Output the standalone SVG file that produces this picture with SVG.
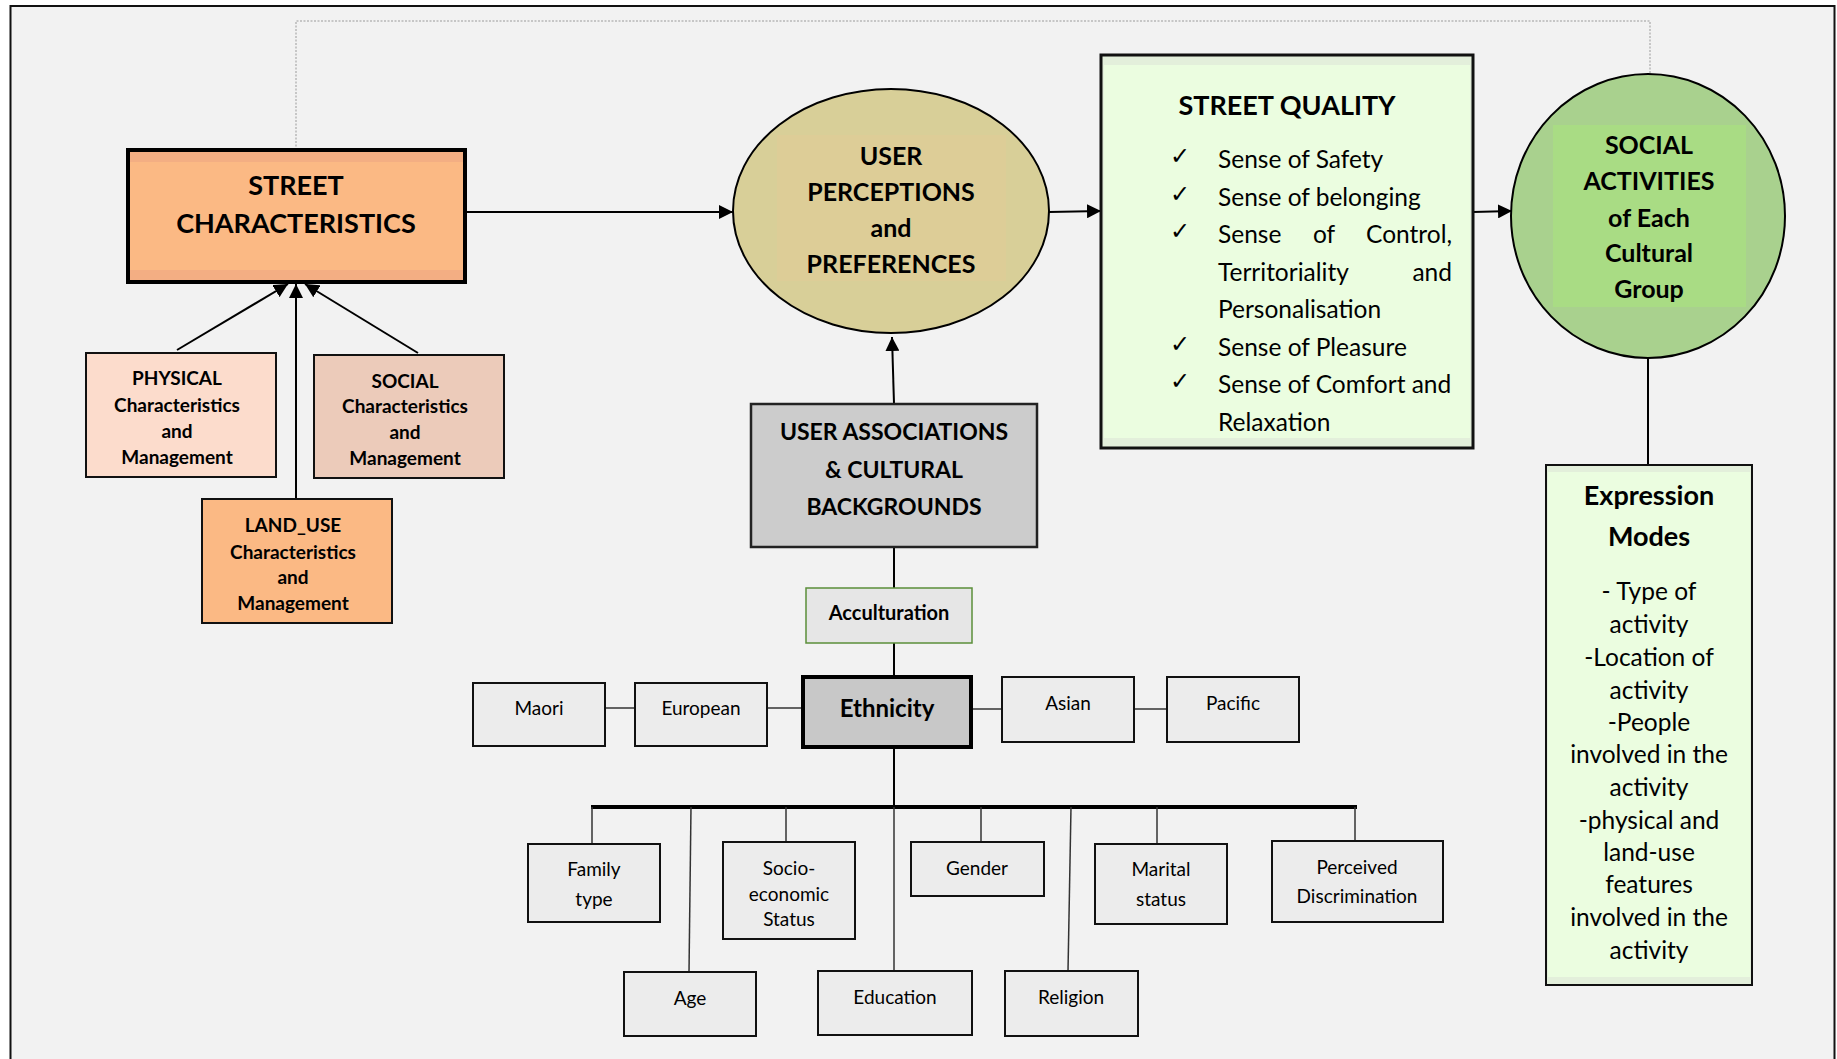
<svg xmlns="http://www.w3.org/2000/svg" width="1837" height="1059" viewBox="0 0 1837 1059">
  <defs>
    <marker id="arrowBig" viewBox="0 0 10 10" refX="10" refY="5" markerWidth="14" markerHeight="14" markerUnits="userSpaceOnUse" orient="auto">
      <path d="M0,0 L10,5 L0,10 z" fill="#000"/>
    </marker>
  </defs>
  <style>
    text { font-family: Lato, "Liberation Sans", sans-serif; fill: #000; text-anchor: middle; dominant-baseline: central; }
    .h1 { font-size: 27px; font-weight: bold; }
    .h2 { font-size: 25px; font-weight: bold; }
    .sm { font-size: 19px; font-weight: bold; }
    .item { font-size: 19px; }
    .list { font-size: 24.5px; text-anchor: start; }
    .chk { font-family: "DejaVu Sans", sans-serif; font-size: 24px; text-anchor: start; }
    .body { font-size: 24.5px; }
    .box { stroke: #111; stroke-width: 2; }
    .grey { fill: #ececec; stroke: #111; stroke-width: 2; }
    .link { stroke: #000; stroke-width: 2; fill: none; }
    .thin { stroke: #333; stroke-width: 1.5; fill: none; }
  </style>

  <!-- page frame -->
  <rect x="10.5" y="6" width="1824" height="1070" fill="#f2f2f2" stroke="#111" stroke-width="2"/>

  <g id="connectors">
    <!-- dotted feedback loop over the top -->
    <path d="M296,150 V21 H1650 V73" fill="none" stroke="#9a9a9a" stroke-width="1" stroke-dasharray="2,1.5"/>
    <!-- main flow -->
    <line class="link" x1="465" y1="212" x2="733" y2="212" marker-end="url(#arrowBig)"/>
    <line class="link" x1="1049" y1="212" x2="1101" y2="211" marker-end="url(#arrowBig)"/>
    <line class="link" x1="1473" y1="212" x2="1512" y2="211" marker-end="url(#arrowBig)"/>
    <line class="link" x1="1648" y1="358" x2="1648" y2="465"/>
    <!-- sub-characteristics into street characteristics -->
    <line class="link" x1="177" y1="350" x2="288" y2="284" marker-end="url(#arrowBig)"/>
    <line class="link" x1="418" y1="353" x2="305" y2="284" marker-end="url(#arrowBig)"/>
    <line class="link" x1="296" y1="499" x2="296" y2="284" marker-end="url(#arrowBig)"/>
    <!-- cultural backgrounds into perceptions -->
    <line class="link" x1="894" y1="404" x2="892" y2="337" marker-end="url(#arrowBig)"/>
    <line class="link" x1="894" y1="547" x2="894" y2="588"/>
    <line class="link" x1="894" y1="643" x2="894" y2="677"/>
    <!-- ethnicity row -->
    <line class="thin" x1="605" y1="708" x2="635" y2="708"/>
    <line class="thin" x1="767" y1="708" x2="803" y2="708"/>
    <line class="thin" x1="971" y1="709" x2="1002" y2="709"/>
    <line class="thin" x1="1134" y1="709" x2="1167" y2="709"/>
    <!-- factor tree -->
    <line class="link" x1="894" y1="747" x2="894" y2="807"/>
    <line x1="591" y1="807" x2="1357" y2="807" stroke="#000" stroke-width="4"/>
    <line class="thin" x1="592" y1="807" x2="592" y2="844"/>
    <line class="thin" x1="691" y1="807" x2="689" y2="972"/>
    <line class="thin" x1="786" y1="807" x2="786" y2="842"/>
    <line class="thin" x1="894" y1="807" x2="894" y2="971"/>
    <line class="thin" x1="981" y1="807" x2="981" y2="842"/>
    <line class="thin" x1="1071" y1="807" x2="1068" y2="971"/>
    <line class="thin" x1="1157" y1="807" x2="1157" y2="844"/>
    <line class="thin" x1="1355" y1="807" x2="1355" y2="841"/>
  </g>

  <g id="street-characteristics">
    <rect x="128" y="150" width="337" height="132" fill="#fbb984"/>
    <rect x="128" y="150" width="337" height="12" fill="#f3ae83"/>
    <rect x="128" y="270" width="337" height="12" fill="#f3ae83"/>
    <rect x="128" y="150" width="337" height="132" fill="none" stroke="#000" stroke-width="4"/>
    <text class="h1" x="296" y="184">STREET</text>
    <text class="h1" x="296" y="222">CHARACTERISTICS</text>
  </g>

  <g id="physical">
    <rect class="box" x="86" y="353" width="190" height="124" fill="#fcdccc"/>
    <text class="sm" x="177" y="377">PHYSICAL</text>
    <text class="sm" x="177" y="404">Characteristics</text>
    <text class="sm" x="177" y="430">and</text>
    <text class="sm" x="177" y="456">Management</text>
  </g>

  <g id="social">
    <rect class="box" x="314" y="355" width="190" height="123" fill="#eccbba"/>
    <text class="sm" x="405" y="380">SOCIAL</text>
    <text class="sm" x="405" y="405">Characteristics</text>
    <text class="sm" x="405" y="431">and</text>
    <text class="sm" x="405" y="457">Management</text>
  </g>

  <g id="land-use">
    <rect class="box" x="202" y="499" width="190" height="124" fill="#fbb984"/>
    <text class="sm" x="293" y="524">LAND_USE</text>
    <text class="sm" x="293" y="551">Characteristics</text>
    <text class="sm" x="293" y="576">and</text>
    <text class="sm" x="293" y="602">Management</text>
  </g>

  <g id="user-perceptions">
    <ellipse cx="891" cy="211" rx="158" ry="122" fill="#d8cf98" stroke="#000" stroke-width="2"/>
    <rect x="777" y="135" width="229" height="146" fill="#ddcd97"/>
    <text class="h2" x="891" y="155">USER</text>
    <text class="h2" x="891" y="191">PERCEPTIONS</text>
    <text class="h2" x="891" y="227">and</text>
    <text class="h2" x="891" y="263">PREFERENCES</text>
  </g>

  <g id="street-quality">
    <rect x="1101" y="55" width="372" height="393" fill="#e3efdb" stroke="#111" stroke-width="3"/>
    <rect x="1104" y="65" width="366" height="373" fill="#ebfde0"/>
    <text class="h2" x="1287" y="104" style="font-size:27px">STREET QUALITY</text>
    <text class="chk" x="1170" y="156">✓</text>
    <text class="list" x="1218" y="158">Sense of Safety</text>
    <text class="chk" x="1170" y="194">✓</text>
    <text class="list" x="1218" y="196">Sense of belonging</text>
    <text class="chk" x="1170" y="231">✓</text>
    <text class="list" x="1218" y="233">Sense</text>
    <text class="list" x="1313" y="233">of</text>
    <text class="list" x="1452" y="233" style="text-anchor:end">Control,</text>
    <text class="list" x="1218" y="271">Territoriality</text>
    <text class="list" x="1452" y="271" style="text-anchor:end">and</text>
    <text class="list" x="1218" y="308">Personalisation</text>
    <text class="chk" x="1170" y="344">✓</text>
    <text class="list" x="1218" y="346">Sense of Pleasure</text>
    <text class="chk" x="1170" y="381">✓</text>
    <text class="list" x="1218" y="383">Sense of Comfort and</text>
    <text class="list" x="1218" y="421">Relaxation</text>
  </g>

  <g id="social-activities">
    <ellipse cx="1648" cy="216" rx="137" ry="142" fill="#a9d18e" stroke="#000" stroke-width="2"/>
    <rect x="1553" y="125" width="193" height="182" fill="#a9dc84"/>
    <text class="h2" x="1649" y="144">SOCIAL</text>
    <text class="h2" x="1649" y="180">ACTIVITIES</text>
    <text class="h2" x="1649" y="217">of Each</text>
    <text class="h2" x="1649" y="252">Cultural</text>
    <text class="h2" x="1649" y="288">Group</text>
  </g>

  <g id="expression-modes">
    <rect x="1546" y="465" width="206" height="520" fill="#e3efdb" stroke="#111" stroke-width="2"/>
    <rect x="1548" y="472" width="202" height="505" fill="#ebfde0"/>
    <text class="h2" x="1649" y="494" style="font-size:27px">Expression</text>
    <text class="h2" x="1649" y="535" style="font-size:27px">Modes</text>
    <text class="body" x="1649" y="590">- Type of</text>
    <text class="body" x="1649" y="623">activity</text>
    <text class="body" x="1649" y="656">-Location of</text>
    <text class="body" x="1649" y="689">activity</text>
    <text class="body" x="1649" y="721">-People</text>
    <text class="body" x="1649" y="753">involved in the</text>
    <text class="body" x="1649" y="786">activity</text>
    <text class="body" x="1649" y="819">-physical and</text>
    <text class="body" x="1649" y="851">land-use</text>
    <text class="body" x="1649" y="883">features</text>
    <text class="body" x="1649" y="916">involved in the</text>
    <text class="body" x="1649" y="949">activity</text>
  </g>

  <g id="user-associations">
    <rect x="751" y="404" width="286" height="143" fill="#cccccc" stroke="#222" stroke-width="2.5"/>
    <text class="h2" x="894" y="431" style="font-size:23px">USER ASSOCIATIONS</text>
    <text class="h2" x="894" y="469" style="font-size:23px">&amp; CULTURAL</text>
    <text class="h2" x="894" y="506" style="font-size:23px">BACKGROUNDS</text>
  </g>

  <g id="acculturation">
    <rect x="806" y="588" width="166" height="55" fill="#e6e6e6" stroke="#5b8f3a" stroke-width="1.5"/>
    <text class="sm" x="889" y="612" style="font-size:20px">Acculturation</text>
  </g>

  <g id="ethnicity">
    <rect x="803" y="677" width="168" height="70" fill="#c8c8c8" stroke="#000" stroke-width="4"/>
    <text class="h2" x="887" y="707" style="font-size:24px">Ethnicity</text>
  </g>

  <g id="maori">
    <rect class="grey" x="473" y="683" width="132" height="63"/>
    <text class="item" x="539" y="707">Maori</text>
  </g>
  <g id="european">
    <rect class="grey" x="635" y="683" width="132" height="63"/>
    <text class="item" x="701" y="707">European</text>
  </g>
  <g id="asian">
    <rect class="grey" x="1002" y="677" width="132" height="65"/>
    <text class="item" x="1068" y="702">Asian</text>
  </g>
  <g id="pacific">
    <rect class="grey" x="1167" y="677" width="132" height="65"/>
    <text class="item" x="1233" y="702">Pacific</text>
  </g>

  <g id="family-type">
    <rect class="grey" x="528" y="844" width="132" height="78"/>
    <text class="item" x="594" y="868">Family</text>
    <text class="item" x="594" y="898">type</text>
  </g>
  <g id="age">
    <rect class="grey" x="624" y="972" width="132" height="64"/>
    <text class="item" x="690" y="997">Age</text>
  </g>
  <g id="socio-economic">
    <rect class="grey" x="723" y="842" width="132" height="97"/>
    <text class="item" x="789" y="867">Socio-</text>
    <text class="item" x="789" y="893">economic</text>
    <text class="item" x="789" y="918">Status</text>
  </g>
  <g id="education">
    <rect class="grey" x="818" y="971" width="154" height="64"/>
    <text class="item" x="895" y="996">Education</text>
  </g>
  <g id="gender">
    <rect class="grey" x="911" y="842" width="133" height="54"/>
    <text class="item" x="977" y="867">Gender</text>
  </g>
  <g id="religion">
    <rect class="grey" x="1005" y="971" width="133" height="65"/>
    <text class="item" x="1071" y="996">Religion</text>
  </g>
  <g id="marital-status">
    <rect class="grey" x="1095" y="844" width="132" height="80"/>
    <text class="item" x="1161" y="868">Marital</text>
    <text class="item" x="1161" y="898">status</text>
  </g>
  <g id="perceived-discrimination">
    <rect class="grey" x="1272" y="841" width="171" height="81"/>
    <text class="item" x="1357" y="866">Perceived</text>
    <text class="item" x="1357" y="895">Discrimination</text>
  </g>
</svg>
